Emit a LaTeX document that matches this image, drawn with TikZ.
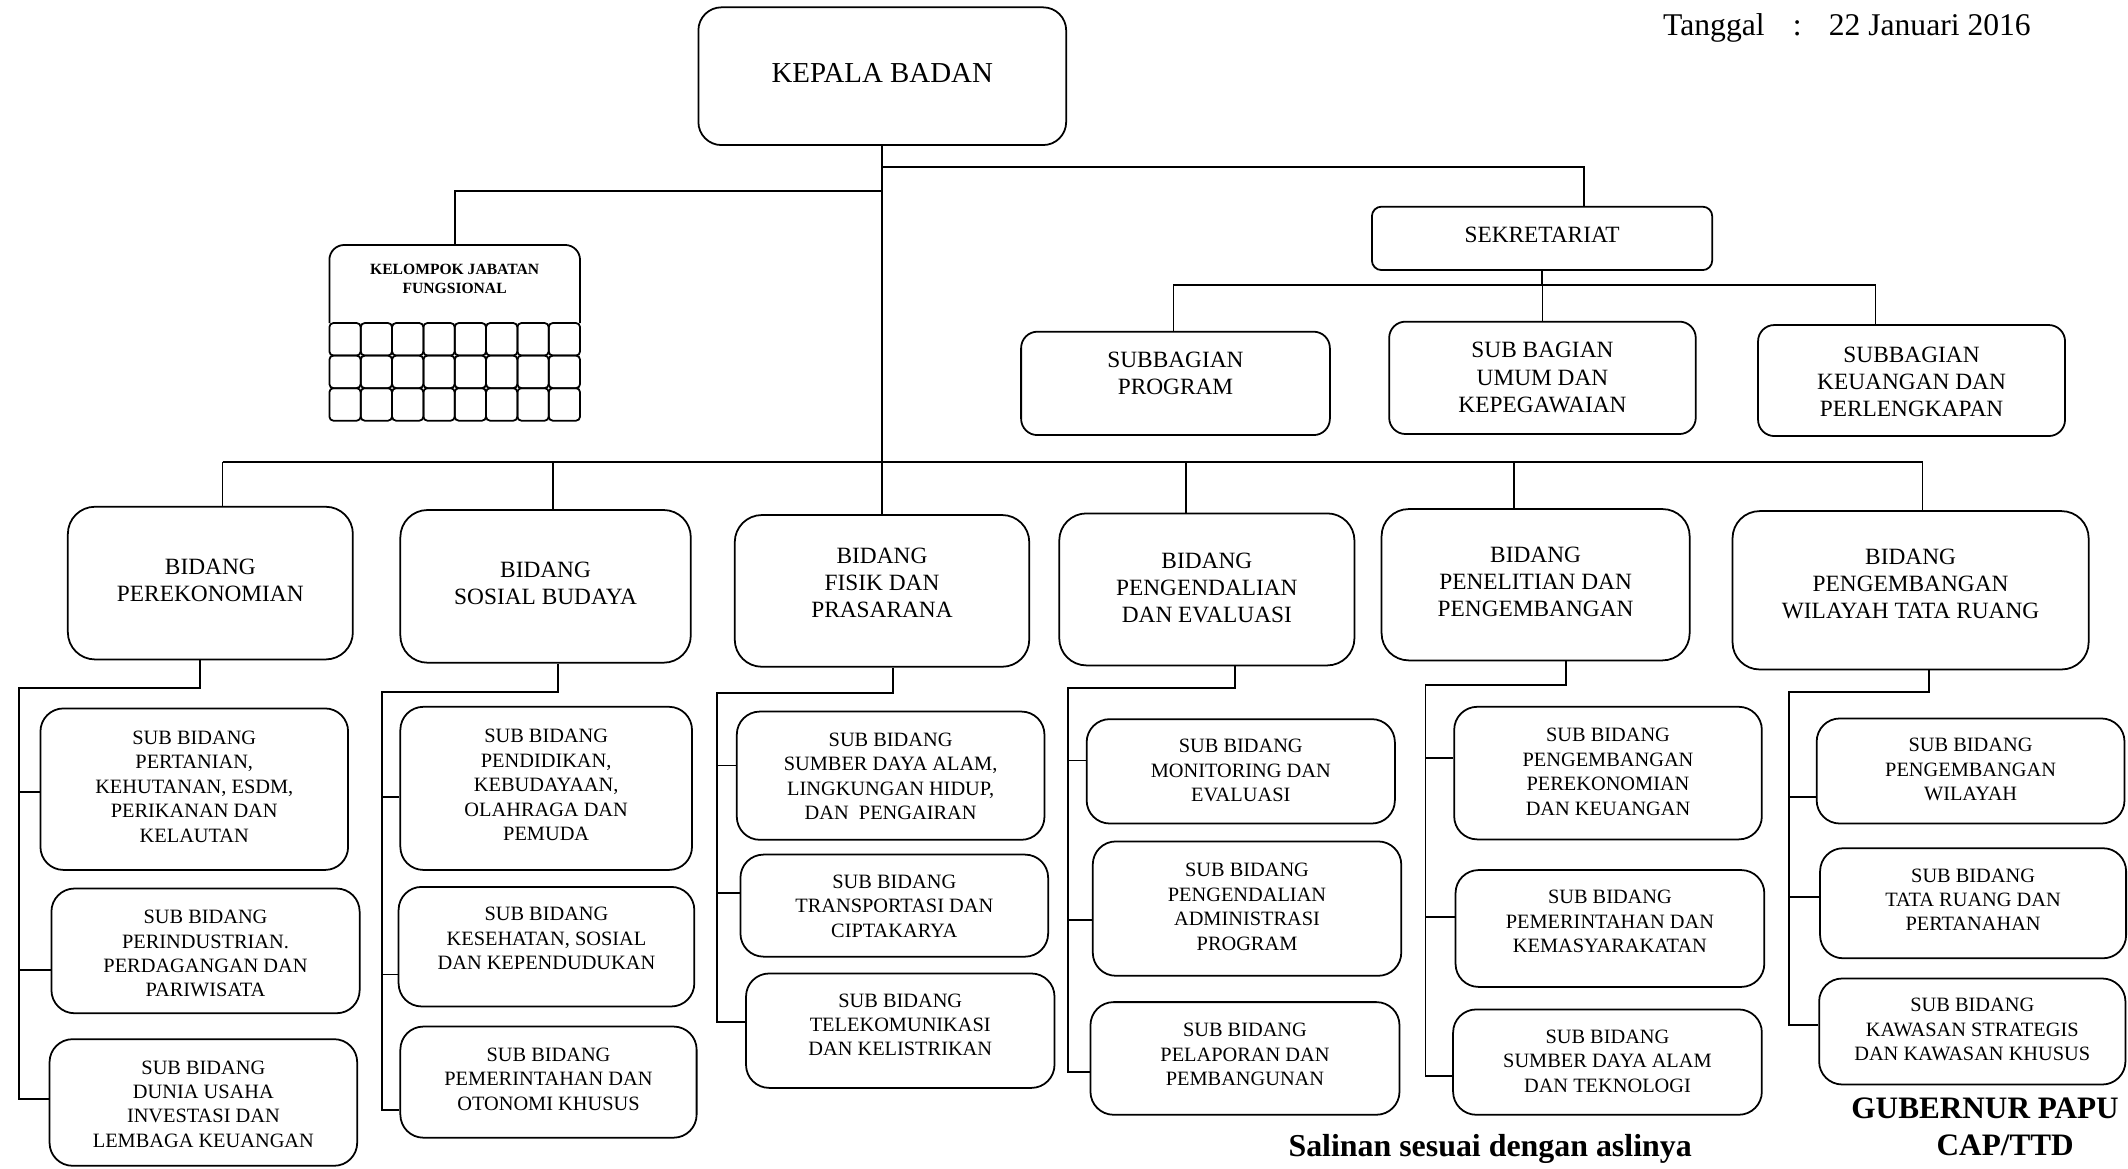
\documentclass[tikz,border=0pt]{standalone}
\usepackage{fontspec}
\setmainfont{Liberation Serif}
\tikzset{
  conn/.style={line width=1.3pt},
  box/.style={draw, line width=1.3pt, inner sep=0pt},
  rk/.style={rounded corners=17pt},
  rs/.style={rounded corners=7pt},
  rg/.style={rounded corners=12pt},
  rb/.style={rounded corners=20pt},
  rsub/.style={rounded corners=17pt},
  txt/.style={align=center, inner sep=0pt},
  fk/.style={font=\fontsize{21.3}{25}\selectfont},
  fb/.style={font=\fontsize{17.2}{20}\selectfont},
  fs/.style={font=\fontsize{15}{18}\selectfont},
  fj/.style={font=\bfseries\fontsize{11.5}{14.7}\selectfont},
  fbig/.style={font=\bfseries\fontsize{23}{27.5}\selectfont},
}
% name, x1, y1, x2, y2, box style, text style, text centre y, text
\newcommand\bx[9]{%
  \pgfmathsetmacro\bxcx{(#2+#4)/2}%
  \pgfmathsetmacro\bxcy{(#3+#5)/2}%
  \pgfmathsetmacro\bxw{#4-#2}%
  \pgfmathsetmacro\bxh{#5-#3}%
  \node[box,#6,minimum width=\bxw pt,minimum height=\bxh pt] (#1) at (\bxcx,\bxcy) {};%
  \node[txt,#7] (#1-t) at (\bxcx,#8) {#9};}
% column index, drop x, bend y, spine x, stub y 1, 2, 3
\newcommand\colconn[7]{%
  \coordinate (c#1a) at (#2,#3);
  \coordinate (c#1b) at (#4,#3);
  \coordinate (k#1x) at (#4,#5);
  \coordinate (k#1y) at (#4,#6);
  \coordinate (k#1z) at (#4,#7);
  \draw[conn] (b#1.south -| c#1a) -- (c#1a) -- (c#1b) -- (k#1z) -- (k#1z -| s#13.west);
  \draw[conn] (k#1x) -- (k#1x -| s#11.west);
  \draw[conn] (k#1y) -- (k#1y -| s#12.west);}
\begin{document}
\begin{tikzpicture}[x=1pt,y=-1pt]
\fill[white] (0,0) rectangle (1568,861);
\useasboundingbox (0,0) rectangle (1568,861);

% date
\node[anchor=base west, inner sep=0pt, font=\fontsize{23.3}{27}\selectfont] (tgl) at (1225.3,25.8)
  {Tanggal\hspace{20.8pt}:\hspace{20pt}22 Januari 2016};

% top level
\bx{kepala}{514.6}{5.4}{785.6}{106.9}{rk}{fk}{54}{KEPALA BADAN}
\bx{sek}{1010.9}{152.3}{1261.6}{199}{rs}{fb}{173.2}{SEKRETARIAT}
\bx{sp}{752.4}{244.4}{979.9}{320.6}{rg}{fb}{275.4}{SUBBAGIAN\\PROGRAM}
\bx{su}{1023.6}{237}{1249.5}{319.8}{rg}{fb}{278.2}{SUB BAGIAN\\UMUM DAN\\KEPEGAWAIAN}
\bx{sk}{1295.4}{239.5}{1521.6}{321.3}{rg}{fb}{281.5}{SUBBAGIAN\\KEUANGAN DAN\\PERLENGKAPAN}

% kelompok jabatan fungsional
\node[draw=none, inner sep=0pt, minimum width=184.7pt, minimum height=129.5pt] (kjf) at (335.05,245.25) {};
\draw[conn, rounded corners=11pt] (242.7,238) -- (242.7,180.5) -- (427.4,180.5) -- (427.4,238);
\foreach \i in {0,...,7}
  \foreach \j in {0,1,2}
    \draw[conn, rounded corners=3pt] ({242.7+\i*23.0875},{238+\j*24}) rectangle ++(23.0875,24);
\node[txt,fj] (kjf-t) at (335,205.5) {KELOMPOK JABATAN\\FUNGSIONAL};

% bidang
\bx{b1}{50}{373.4}{260}{485.9}{rb}{fb}{427.6}{BIDANG\\PEREKONOMIAN}
\bx{b2}{295}{375.8}{509}{488.3}{rb}{fb}{429.6}{BIDANG\\SOSIAL BUDAYA}
\bx{b3}{541.4}{379.5}{758.4}{491.3}{rb}{fb}{429.5}{BIDANG\\FISIK DAN\\PRASARANA}
\bx{b4}{780.5}{378.3}{998}{490.3}{rb}{fb}{433}{BIDANG\\PENGENDALIAN\\DAN EVALUASI}
\bx{b5}{1018}{375.1}{1245}{486.6}{rb}{fb}{429}{BIDANG\\PENELITIAN DAN\\PENGEMBANGAN}
\bx{b6}{1276.6}{376.6}{1539}{493.3}{rb}{fb}{430.5}{BIDANG\\PENGEMBANGAN\\WILAYAH TATA RUANG}

% sub bidang
\bx{s11}{29.8}{522}{256.5}{641}{rsub}{fs}{579.6}{SUB BIDANG\\PERTANIAN,\\KEHUTANAN, ESDM,\\PERIKANAN DAN\\KELAUTAN}
\bx{s12}{37.9}{654.7}{265}{746.6}{rsub}{fs}{702.7}{SUB BIDANG\\PERINDUSTRIAN.\\PERDAGANGAN DAN\\PARIWISATA}
\bx{s13}{36.5}{765.7}{263.2}{859}{rsub}{fs}{813.5}{SUB BIDANG\\DUNIA USAHA\\INVESTASI DAN\\LEMBAGA KEUANGAN}

\bx{s21}{295}{520.8}{509.9}{641}{rsub}{fs}{578.5}{SUB BIDANG\\PENDIDIKAN,\\KEBUDAYAAN,\\OLAHRAGA DAN\\PEMUDA}
\bx{s22}{293.7}{653.5}{511.6}{741.6}{rsub}{fs}{691.7}{SUB BIDANG\\KESEHATAN, SOSIAL\\DAN KEPENDUDUKAN}
\bx{s23}{295}{756.4}{513.3}{838.3}{rsub}{fs}{795}{SUB BIDANG\\PEMERINTAHAN DAN\\OTONOMI KHUSUS}

\bx{s31}{542.9}{524.3}{769.6}{618.8}{rsub}{fs}{572.1}{SUB BIDANG\\SUMBER DAYA ALAM,\\LINGKUNGAN HIDUP,\\DAN\ \ PENGAIRAN}
\bx{s32}{545.6}{629.7}{772.3}{704.9}{rsub}{fs}{667.7}{SUB BIDANG\\TRANSPORTASI DAN\\CIPTAKARYA}
\bx{s33}{549.7}{717.3}{777}{801.6}{rsub}{fs}{755.2}{SUB BIDANG\\TELEKOMUNIKASI\\DAN KELISTRIKAN}

\bx{s41}{800.7}{529.9}{1027.8}{606.8}{rsub}{fs}{567.7}{SUB BIDANG\\MONITORING DAN\\EVALUASI}
\bx{s42}{805.2}{620}{1032.5}{719}{rsub}{fs}{668.2}{SUB BIDANG\\PENGENDALIAN\\ADMINISTRASI\\PROGRAM}
\bx{s43}{803.5}{738.4}{1031.2}{821.4}{rsub}{fs}{777}{SUB BIDANG\\PELAPORAN DAN\\PEMBANGUNAN}

\bx{s51}{1071.5}{520.8}{1298.2}{618.5}{rsub}{fs}{568.7}{SUB BIDANG\\PENGEMBANGAN\\PEREKONOMIAN\\DAN KEUANGAN}
\bx{s52}{1072.5}{641.1}{1300}{727.2}{rsub}{fs}{679.1}{SUB BIDANG\\PEMERINTAHAN DAN\\KEMASYARAKATAN}
\bx{s53}{1070.7}{743.8}{1298.2}{821.4}{rsub}{fs}{781.8}{SUB BIDANG\\SUMBER DAYA ALAM\\DAN TEKNOLOGI}

\bx{s61}{1338.6}{529.4}{1565.4}{606.8}{rsub}{fs}{567.2}{SUB BIDANG\\PENGEMBANGAN\\WILAYAH}
\bx{s62}{1341.1}{625}{1566.6}{706.1}{rsub}{fs}{663}{SUB BIDANG\\TATA RUANG DAN\\PERTANAHAN}
\bx{s63}{1340.4}{721}{1566.1}{799.1}{rsub}{fs}{758.8}{SUB BIDANG\\KAWASAN STRATEGIS\\DAN KAWASAN KHUSUS}

% top connectors
\coordinate (jr) at (650.1,122.8);
\coordinate (jl) at (650.1,140.5);
\draw[conn] (kepala.south) -- (kepala.south |- b3.north);
\draw[conn] (jr) -| ([xshift=30.7pt]sek.north);
\draw[conn] (jl) -| (kjf.north);

% bidang bus
\coordinate (v1) at (164,340.2);
\coordinate (v2) at (407.4,340.2);
\coordinate (v4) at (874,340.2);
\coordinate (v5) at (1115.5,340.2);
\coordinate (v6) at (1416.6,340.2);
\draw[conn] (v1) -- (v6);
\foreach \n in {1,2,4,5,6} \draw[conn] (v\n) -- (v\n |- b\n.north);

% sekretariat bus
\coordinate (sb1) at (864.6,210);
\coordinate (sb3) at (1382,210);
\draw[conn] (sb1) -- (sb3);
\draw[conn] (sek.south) -- (sek.south |- sb1);
\draw[conn] (sb1) -- (sb1 |- sp.north);
\draw[conn] (su.north |- sb1) -- (su.north);
\draw[conn] (sb3) -- (sb3 |- sk.north);

% sub bidang connectors
\colconn{1}{147.2}{506.9}{14.2}{583.8}{714.8}{809.6}
\colconn{2}{411.1}{510.1}{281.5}{587.5}{718}{817.8}
\colconn{3}{658}{510.6}{528.4}{564}{658.2}{753.3}
\colconn{4}{910}{507.1}{787.2}{560.4}{678}{790}
\colconn{5}{1154}{504.6}{1050.3}{558.4}{675.8}{793}
\colconn{6}{1421.3}{510.1}{1318.3}{587.5}{660.7}{755}

% footer texts
\node[anchor=base, inner sep=0pt, font=\bfseries\fontsize{23.5}{28}\selectfont] (salinan) at (1098,852.3) {Salinan sesuai dengan aslinya};
\node[anchor=base west, inner sep=0pt, fbig] (gub) at (1364,823.9) {GUBERNUR PAPU};
\node[anchor=base, inner sep=0pt, fbig] (cap) at (1477.5,851.3) {CAP/TTD};
\end{tikzpicture}
\end{document}
